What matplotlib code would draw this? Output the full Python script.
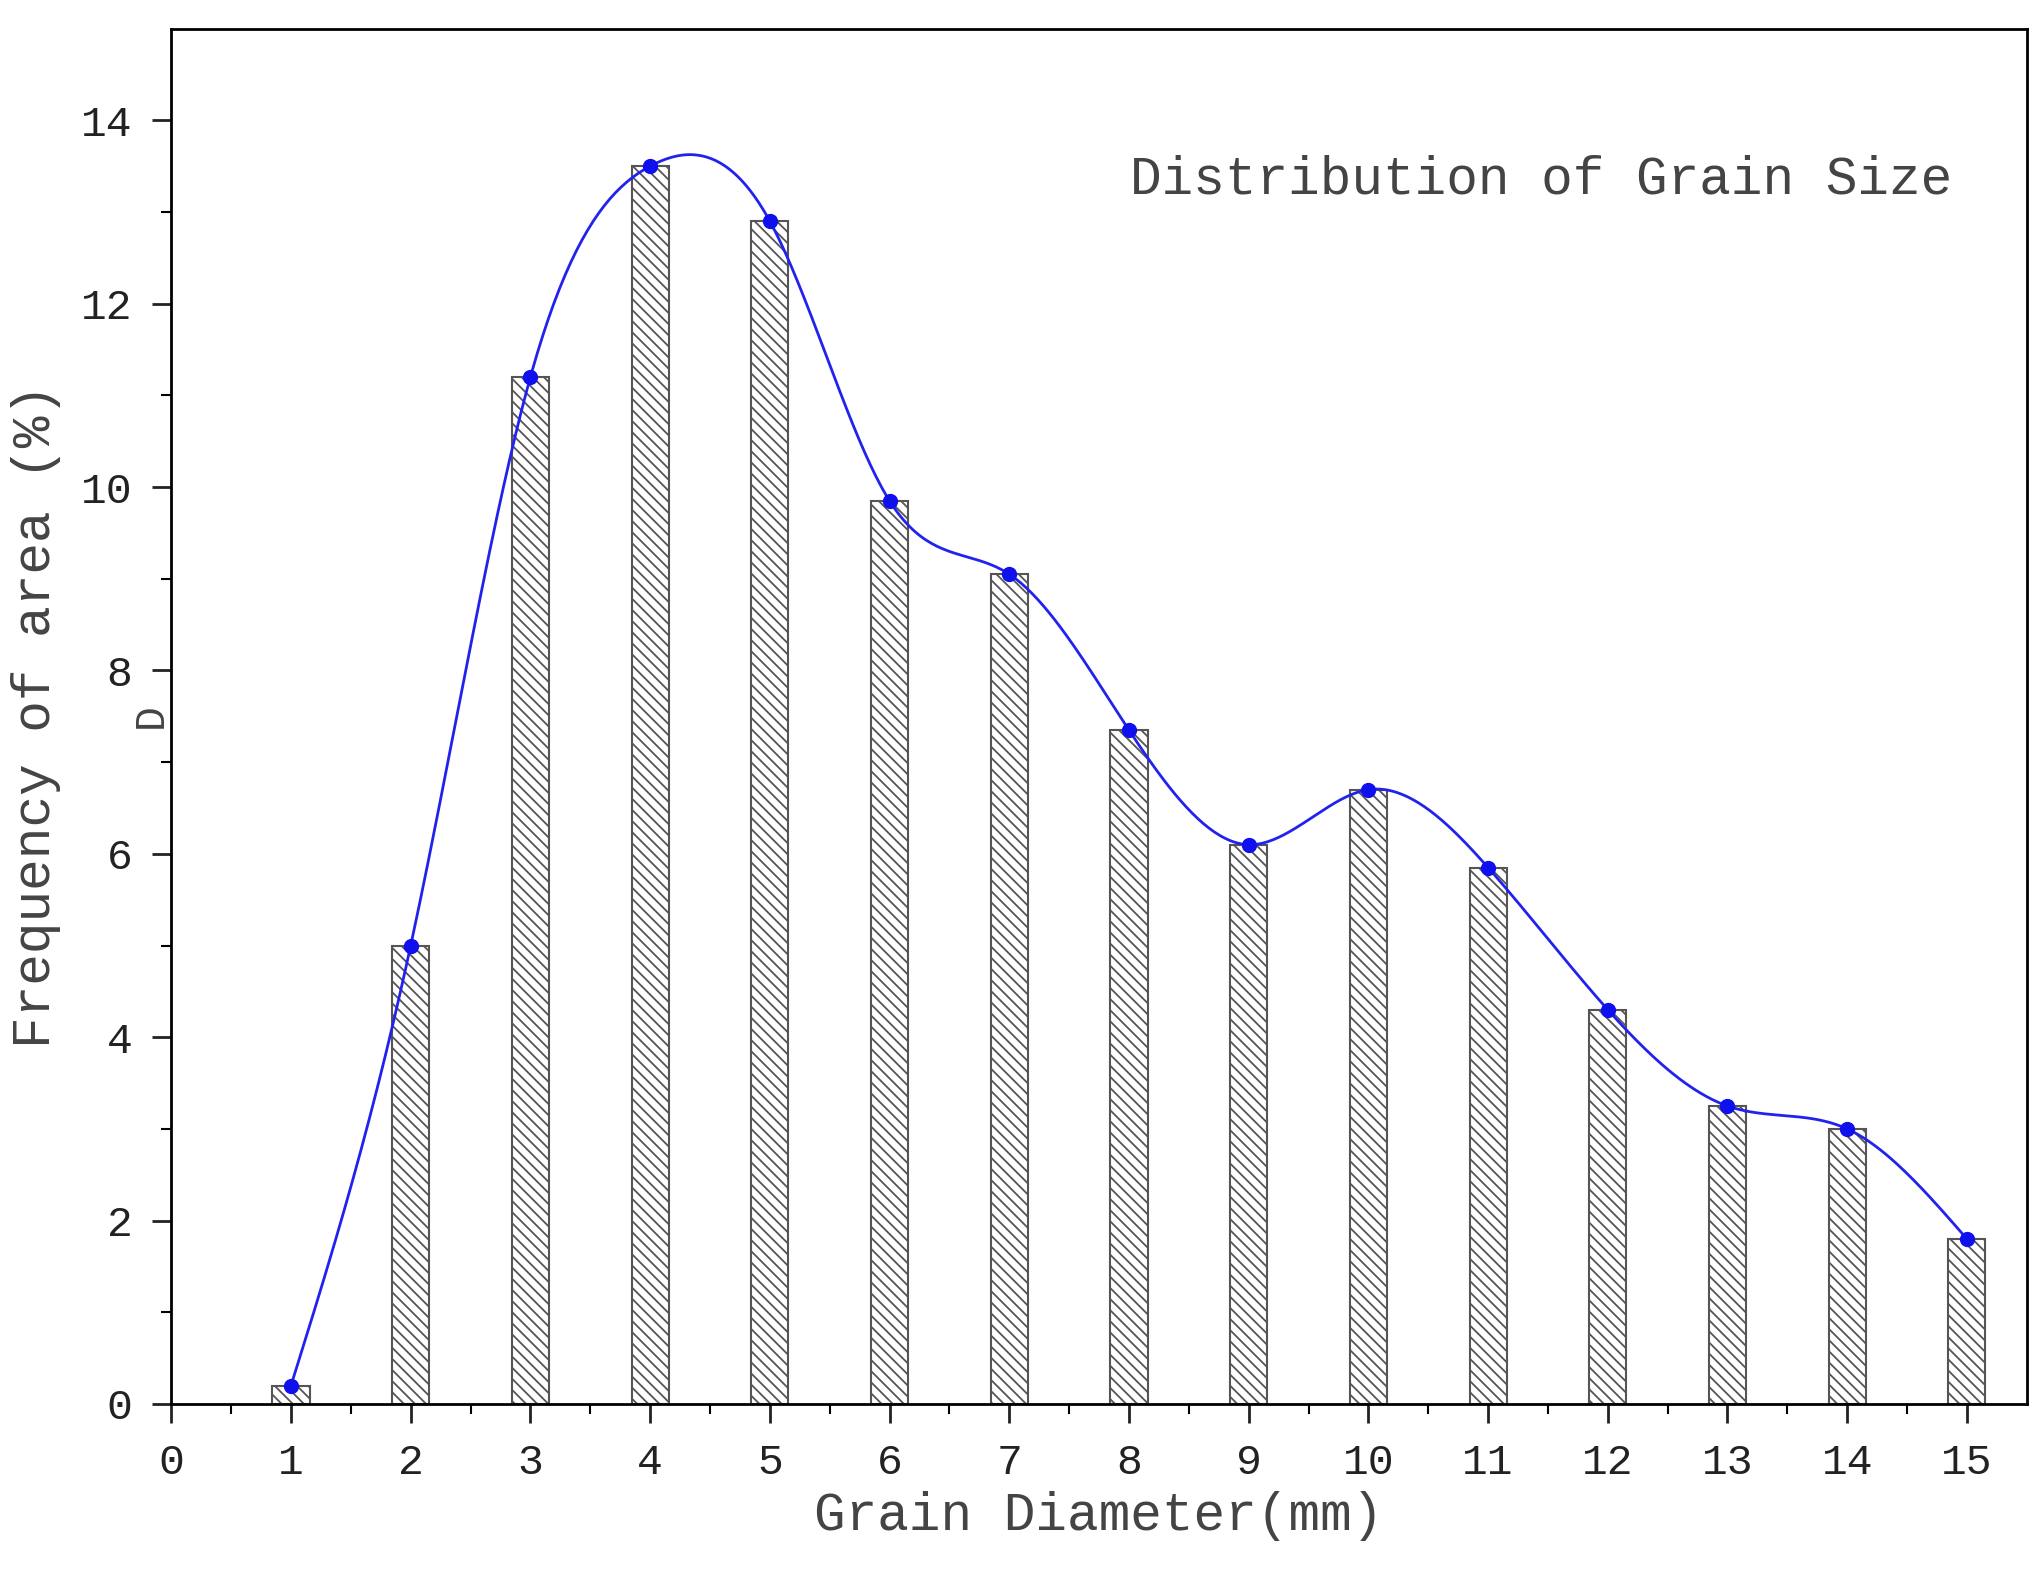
import numpy as np
import matplotlib.pyplot as plt

# 粒径分布数据
diam = [1, 2, 3, 4, 5, 6, 7, 8, 9, 10, 11, 12, 13, 14, 15]
freq = [0.2, 5.0, 11.2, 13.5, 12.9, 9.85, 9.05, 7.35, 6.1, 6.7, 5.85, 4.3, 3.25, 3.0, 1.8]
xticks = list(range(0, 16))
yticks = [0, 2, 4, 6, 8, 10, 12, 14]


def natural_spline(x, y, xs):
    x = np.asarray(x, float); y = np.asarray(y, float)
    n = len(x); h = np.diff(x)
    A = np.zeros((n, n)); b = np.zeros(n)
    A[0, 0] = A[-1, -1] = 1
    for i in range(1, n - 1):
        A[i, i-1] = h[i-1]; A[i, i] = 2*(h[i-1]+h[i]); A[i, i+1] = h[i]
        b[i] = 6*((y[i+1]-y[i])/h[i] - (y[i]-y[i-1])/h[i-1])
    M = np.linalg.solve(A, b)
    idx = np.clip(np.searchsorted(x, xs) - 1, 0, n - 2)
    x0 = x[idx]; x1 = x[idx+1]; hh = x1 - x0
    return (M[idx]*(x1-xs)**3/(6*hh) + M[idx+1]*(xs-x0)**3/(6*hh)
            + (y[idx]/hh - M[idx]*hh/6)*(x1-xs) + (y[idx+1]/hh - M[idx+1]*hh/6)*(xs-x0))


plt.rcParams['font.family'] = ['Liberation Mono', 'DejaVu Sans Mono']
plt.rcParams['hatch.linewidth'] = 1.3
plt.rcParams['hatch.color'] = '#333333'
fig = plt.figure(figsize=(20.39, 15.9), dpi=100)
ax = fig.add_axes([0.084, 0.117, 0.910, 0.865])

ax.bar(diam, freq, width=0.31, color='white', edgecolor='#555555', hatch='\\\\\\', linewidth=1.5)
xs = np.linspace(1, 15, 600)
ax.plot(xs, natural_spline(diam, freq, xs), color='#2222ee', lw=2)
ax.plot(diam, freq, 'o', color='#1010ee', ms=10)

ax.set_xlim(0, 15.5)
ax.set_ylim(0, 15)
ax.set_xticks(xticks)
ax.set_yticks(yticks)
ax.set_xticks(np.arange(0.5, 15.5, 1), minor=True)
ax.set_yticks(np.arange(1, 15, 2), minor=True)
ax.tick_params(which='major', length=14, width=2, labelsize=31, colors='#222222', pad=14)
ax.tick_params(which='minor', length=7, width=1.5)
for s in ax.spines.values():
    s.set_linewidth(2)

ax.set_xlabel('Grain Diameter(mm)', fontsize=38, color='#444444', labelpad=6)
ax.set_ylabel('Frequency of area (%)', fontsize=38, color='#444444', labelpad=14)
ax.text(0.96, 0.89, 'Distribution of Grain Size', transform=ax.transAxes,
        ha='right', va='center', fontsize=38, color='#444444')
fig.text(0.074, 0.55, 'D', rotation=90, fontsize=30, color='#444444', ha='center', va='center')

fig.savefig('out.png')
